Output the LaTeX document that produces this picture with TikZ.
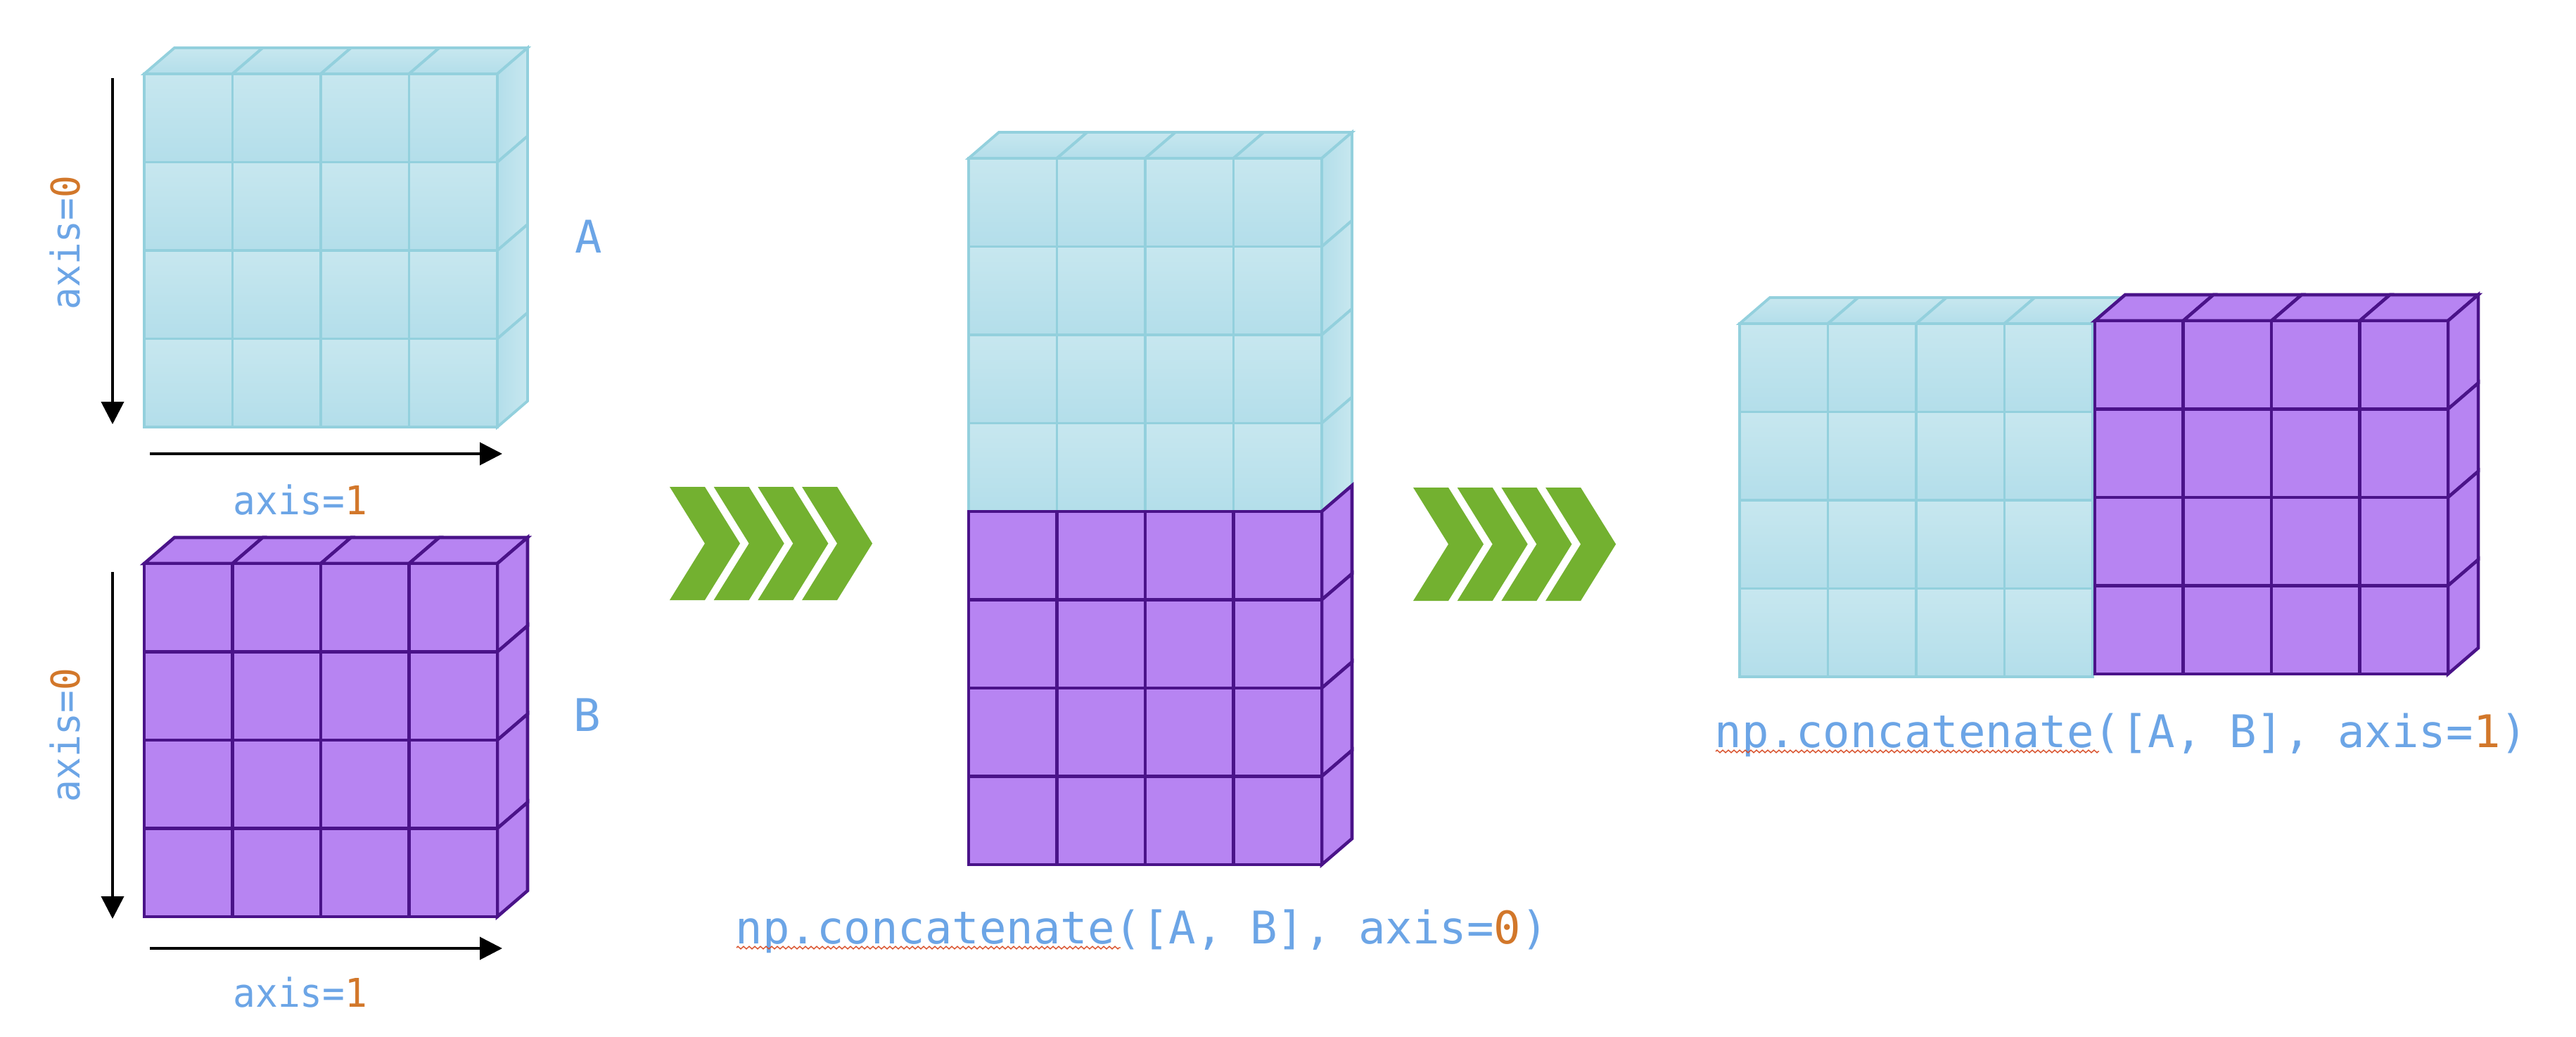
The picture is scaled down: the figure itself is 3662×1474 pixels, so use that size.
\documentclass[tikz,border=0pt]{standalone}
\usepackage{fontspec}
\setmonofont{DejaVu Sans Mono}
\newfontfamily\axisfont[FakeStretch=0.94]{DejaVu Sans Mono}
\usetikzlibrary{arrows.meta,decorations.pathmorphing}

\definecolor{cubeline}{HTML}{93D0DD}
\definecolor{cubelight}{HTML}{C7E7EF}
\definecolor{cubedark}{HTML}{B3DEEA}
\definecolor{violetfill}{HTML}{B784F2}
\definecolor{violetline}{HTML}{4A1389}
\definecolor{chevgreen}{HTML}{73B130}
\definecolor{codeblue}{HTML}{6CA5E6}
\definecolor{codeorange}{HTML}{D2772A}
\definecolor{spellred}{HTML}{D9502A}

% one block of 4x4 cells: x, y of the front top left corner, cell style
\newcommand{\frontgrid}[3]{%
  \foreach \i in {0,...,3}
    \foreach \j in {0,...,3}
      \path[#3] ({#1+\i*125.5},{#2+\j*125.5}) rectangle ++(125.5,125.5);
}
\newcommand{\topgrid}[3]{%
  \foreach \i in {0,...,3}
    \path[#3] ({#1+\i*125.5},{#2}) -- ++(43,-37) -- ++(125.5,0) -- ++(-43,37) -- cycle;
}
\newcommand{\sidegrid}[3]{%
  \foreach \j in {0,...,3}
    \path[#3] ({#1+502},{#2+\j*125.5}) -- ++(43,-37) -- ++(0,125.5) -- ++(-43,37) -- cycle;
}

\begin{document}
\begin{tikzpicture}[x=0.1mm,y=-0.1mm,
    bluecell/.style={draw=cubeline,line width=1.1pt,top color=cubelight,bottom color=cubedark},
    blueside/.style={draw=cubeline,line width=1.1pt,left color=cubedark,right color=cubelight},
    violetcell/.style={draw=violetline,line width=1.3pt,fill=violetfill},
    axisarrow/.style={line width=1.1pt,-{Triangle[length=3.2mm,width=3.2mm]}},
    axislabel/.style={inner sep=0pt,text=codeblue,font=\fontsize{16}{19}\selectfont\axisfont},
    codelabel/.style={inner sep=0pt,text=codeblue,font=\fontsize{18.2}{22}\selectfont\ttfamily},
    squiggle/.style={spellred,line width=0.4pt,decorate,decoration={zigzag,segment length=0.8mm,amplitude=0.18mm}},
    chevron/.style={fill=chevgreen}]
  \useasboundingbox (0,0) rectangle (3662,1474);

  % array A
  \topgrid{205}{105}{bluecell}
  \sidegrid{205}{105}{blueside}
  \frontgrid{205}{105}{bluecell}
  \node[codelabel] (labelA) at (837,336) {A};
  \coordinate (rowsAstart) at (160,111);
  \coordinate (rowsAend) at (160,603);
  \coordinate (colsAstart) at (213,645);
  \coordinate (colsAend) at (714,645);
  \draw[axisarrow] (rowsAstart) -- (rowsAend);
  \draw[axisarrow] (colsAstart) -- (colsAend);
  \node[axislabel,rotate=90] (axisRowsA) at (93,345) {axis=\textcolor{codeorange}{0}};
  \node[axislabel,anchor=base] (axisColsA) at (427,731) {axis=\textcolor{codeorange}{1}};

  % array B
  \topgrid{205}{801}{violetcell}
  \sidegrid{205}{801}{violetcell}
  \frontgrid{205}{801}{violetcell}
  \node[codelabel] (labelB) at (835,1016) {B};
  \coordinate (rowsBstart) at (160,813);
  \coordinate (rowsBend) at (160,1306);
  \coordinate (colsBstart) at (213,1348);
  \coordinate (colsBend) at (714,1348);
  \draw[axisarrow] (rowsBstart) -- (rowsBend);
  \draw[axisarrow] (colsBstart) -- (colsBend);
  \node[axislabel,rotate=90] (axisRowsB) at (93,1045) {axis=\textcolor{codeorange}{0}};
  \node[axislabel,anchor=base] (axisColsB) at (427,1431) {axis=\textcolor{codeorange}{1}};

  % chevrons
  \foreach \k in {0,...,3}
    \path[chevron] ({952+\k*62.7},692) -- ++(50,0) -- ++(50,80.5) -- ++(-50,80.5)
      -- ++(-50,0) -- ++(50,-80.5) -- cycle;
  \foreach \k in {0,...,3}
    \path[chevron] ({2009+\k*62.7},693) -- ++(50,0) -- ++(50,80.5) -- ++(-50,80.5)
      -- ++(-50,0) -- ++(50,-80.5) -- cycle;

  % axis=0 result
  \topgrid{1377}{225}{bluecell}
  \sidegrid{1377}{225}{blueside}
  \frontgrid{1377}{225}{bluecell}
  \sidegrid{1377}{727}{violetcell}
  \frontgrid{1377}{727}{violetcell}
  \node[codelabel,anchor=base west] (concatRows) at (1045,1341)
    {np.concatenate([A, B], axis=\textcolor{codeorange}{0})};
  \coordinate (spellRowsStart) at (1047,1347);
  \coordinate (spellRowsEnd) at (1593,1347);
  \draw[squiggle] (spellRowsStart) -- (spellRowsEnd);

  % axis=1 result
  \topgrid{2473}{460}{bluecell}
  \frontgrid{2473}{460}{bluecell}
  \topgrid{2978}{456}{violetcell}
  \sidegrid{2978}{456}{violetcell}
  \frontgrid{2978}{456}{violetcell}
  \node[codelabel,anchor=base west] (concatCols) at (2437,1062)
    {np.concatenate([A, B], axis=\textcolor{codeorange}{1})};
  \coordinate (spellColsStart) at (2439,1068);
  \coordinate (spellColsEnd) at (2984,1068);
  \draw[squiggle] (spellColsStart) -- (spellColsEnd);
\end{tikzpicture}
\end{document}
